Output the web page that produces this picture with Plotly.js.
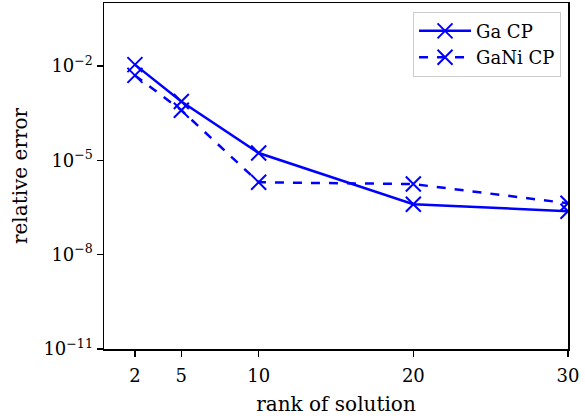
<!DOCTYPE html>
<html>
<head>
<meta charset="utf-8">
<script src="https://cdn.plot.ly/plotly-3.0.1.min.js"></script>
<style>html,body{margin:0;padding:0;background:#fff;}#chart{width:585px;height:420px;}</style>
</head>
<body>
<div id="chart"></div>
<script>
const ranks = [2, 5, 10, 20, 30];
const gaCP = [1.1e-2, 7.4e-4, 1.7e-5, 4.0e-7, 2.4e-7];
const gaNiCP = [5.0e-3, 3.9e-4, 2.0e-6, 1.75e-6, 4.3e-7];
const seriesNames = ['Ga CP', 'GaNi CP'];
const yTickVals = [1e-11, 1e-8, 1e-5, 1e-2];
const yTickText = ['10<sup>−11</sup>', '10<sup>−8</sup>', '10<sup>−5</sup>', '10<sup>−2</sup>'];
const xTickVals = [2, 5, 10, 20, 30];

const font = 'DejaVu Serif';
const blue = '#0000ff';
const marker = {symbol: 'x-thin', size: 15, color: blue, line: {color: blue, width: 2}};

const traces = [
  {x: ranks, y: gaCP, name: seriesNames[0], type: 'scatter', mode: 'lines+markers',
   line: {color: blue, width: 2.5, dash: 'solid'}, marker: marker},
  {x: ranks, y: gaNiCP, name: seriesNames[1], type: 'scatter', mode: 'lines+markers',
   line: {color: blue, width: 2.5, dash: 'dash'}, marker: marker}
];

const layout = {
  width: 585, height: 420,
  margin: {l: 104, r: 17, t: 3, b: 71},
  paper_bgcolor: '#fff', plot_bgcolor: '#fff',
  font: {family: font, size: 18, color: '#000'},
  showlegend: true,
  legend: {x: 0.985, y: 0.975, xanchor: 'right', yanchor: 'top', itemwidth: 52,
           bgcolor: 'rgba(255,255,255,0.8)', bordercolor: '#cccccc', borderwidth: 1,
           font: {family: font, size: 18}},
  xaxis: {
    range: [0, 30], tickmode: 'array', tickvals: xTickVals, ticktext: xTickVals.map(String),
    showgrid: false, zeroline: false, showline: true, mirror: true, linecolor: '#000', linewidth: 1.5,
    ticks: 'outside', ticklen: 6, tickwidth: 1.2, tickcolor: '#000', ticklabelstandoff: 4,
    tickfont: {family: font, size: 18},
    title: {text: 'rank of solution', font: {family: font, size: 20}, standoff: 12}
  },
  yaxis: {
    type: 'log', range: [-11, 0], tickmode: 'array', tickvals: yTickVals, ticktext: yTickText,
    showgrid: false, zeroline: false, showline: true, mirror: true, linecolor: '#000', linewidth: 1.5,
    ticks: 'outside', ticklen: 6, tickwidth: 1.2, tickcolor: '#000',
    tickfont: {family: font, size: 18},
    title: {text: 'relative error', font: {family: font, size: 20}, standoff: 10}
  }
};

Plotly.newPlot('chart', traces, layout, {displayModeBar: false, staticPlot: true});
</script>
</body>
</html>
